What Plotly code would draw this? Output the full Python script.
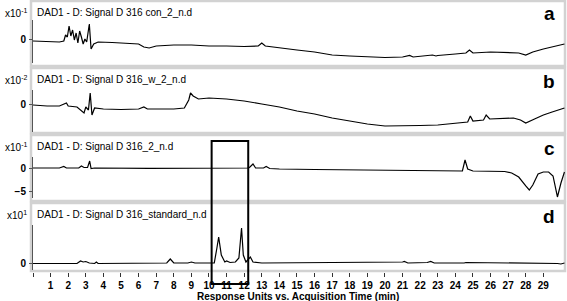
import plotly.graph_objects as go

W, H = 567, 301

# ---------------- data ----------------
titles = ["DAD1 - D: Signal D 316 con_2_n.d",
          "DAD1 - D: Signal D 316_w_2_n.d",
          "DAD1 - D: Signal D 316_2_n.d",
          "DAD1 - D: Signal D 316_standard_n.d"]
letters = ["a", "b", "c", "d"]
exponents = ["-1", "-2", "-1", "1"]

t_a = [0, 0.5, 1.0, 1.5, 1.75, 1.85, 1.95, 2.05, 2.15, 2.25, 2.35, 2.45, 2.55, 2.65, 2.75, 2.85, 2.95, 3.05,
       3.2, 3.3, 3.45, 3.7, 4.5, 5.5, 6.0, 6.3, 6.6, 7.0, 8, 9, 10, 11, 12, 12.8, 13.0, 13.2, 14, 15, 16, 17,
       18, 19, 20, 21, 21.4, 21.6, 22, 22.7, 22.9, 23, 24, 24.6, 24.8, 25.0, 26, 27, 27.6, 28.0, 28.4, 29,
       29.5, 30.2]
v_a = [-0.1, -0.125, -0.15, -0.15, -0.1, 0.2, 0.1, 0.65, 0.15, 0.45, -0.05, 0.3, -0.2, 0.4, 0.1, -0.25, 0,
       -0.15, 0.75, -0.5, -0.25, -0.15, -0.175, -0.2, -0.25, -0.4, -0.45, -0.35, -0.3, -0.3, -0.35, -0.35,
       -0.375, -0.35, -0.2, -0.35, -0.45, -0.55, -0.65, -0.8, -0.85, -0.9, -0.925, -0.9, -0.825, -0.9,
       -0.875, -0.8, -0.85, -0.825, -0.75, -0.7, -0.55, -0.7, -0.65, -0.675, -0.7, -0.8, -0.65, -0.5,
       -0.4, -0.25]

t_b = [0, 0.8, 1.5, 1.9, 2.0, 2.5, 2.9, 3.0, 3.15, 3.25, 3.35, 3.5, 4, 5, 6, 6.3, 6.5, 7, 8, 8.6, 8.85,
       8.95, 9.1, 9.4, 10, 11, 12, 13, 14, 15, 16, 17, 18, 19, 20, 21, 22, 23, 24, 24.7, 24.85, 25.0, 25.6,
       25.75, 25.95, 26.5, 27.3, 27.7, 28.0, 28.5, 29, 29.5, 30.2]
v_b = [-0.1, -0.2, -0.2, 0.1, -0.2, -0.3, -0.9, -0.3, -0.6, 1.1, -1.1, -0.4, -0.5, -0.55, -0.5, -0.3, -0.5,
       -0.5, -0.5, -0.4, 0.4, 1.1, 0.8, 0.5, 0.6, 0.5, 0.3, 0, -0.3, -0.7, -1.0, -1.4, -1.7, -2.0, -2.2,
       -2.2, -2.15, -2.1, -1.95, -1.8, -1.2, -1.7, -1.6, -1.1, -1.5, -1.45, -1.4, -1.6, -1.9, -1.5, -1.1,
       -0.8, -0.4]

t_c = [0, 1.5, 1.75, 1.9, 2.6, 2.75, 2.9, 3.1, 3.22, 3.3, 3.5, 6.3, 6.6, 12.2, 12.3, 12.5, 12.65, 13.1,
       13.25, 13.45, 14, 16, 18, 20, 22, 24.4, 24.55, 24.7, 25, 26, 26.8, 27.2, 27.6, 28.0, 28.2, 28.4,
       28.7, 29.0, 29.3, 29.55, 29.8, 30.0, 30.2]
v_c = [0, 0, 0.33, 0, 0, 0.43, 0.11, 0.11, 1.52, -0.11, 0, -0.1, -0.1, 0, 0.11, 0.87, 0, 0, 0.33, -0.11,
       -0.22, -0.33, -0.43, -0.43, -0.54, -0.65, 1.74, -0.22, -0.65, -0.76, -0.76, -1.09, -1.96, -3.91,
       -4.78, -3.70, -1.30, -0.87, -0.87, -1.74, -6.30, -3.26, -0.87]

t_d = [0, 2.5, 2.7, 2.85, 3.0, 3.2, 3.5, 3.6, 3.7, 7.6, 7.8, 8.0, 8.8, 9.0, 9.2, 10.3, 10.45, 10.55, 10.7,
       10.9, 11.0, 11.2, 11.5, 11.7, 11.85, 11.95, 12.1, 12.35, 12.5, 13, 21, 21.1, 21.3, 22.4, 22.6, 22.8,
       24.5, 24.6, 29.8, 30.0, 30.2]
v_d = [-0.05, -0.05, 0.2, 0.1, 0.15, 0, -0.05, 0.1, -0.05, 0, 0.4, 0, 0, 0.1, 0, 0, 1.5, 2.6, 0.8, 0.1,
       0.2, 0.05, 0.1, 0.5, 3.5, 0.8, 0.1, 0.6, 0.1, 0, 0.1, 0.15, 0, 0.05, 0.15, 0, 0, 0.05, -0.05, -0.1, 0]

series_t = [t_a, t_b, t_c, t_d]
series_v = [v_a, v_b, v_c, v_d]

y_ranges = [[-1.2, 0.95], [-2.8, 1.4], [-6.52, 2.39], [-0.7, 3.8]]
y_ticks = [[0], [0], [0, -5], [0]]

x_ticks = list(range(1, 30))
x_minor_ticks = [0]
x_range = [-0.057, 30.23]
box_x = [10.15, 12.23]

# ---------------- layout geometry (pixels) ----------------
def px(x):
    return x / W

def py(y):
    return 1 - y / H

axis_px = [(20, 63), (90, 132), (157, 198), (225, 270)]
frame_px = [(1, 66), (68, 133), (135, 201), (203, 271)]
title_y = [12, 79, 146, 214]
FONT = "Liberation Sans, Arial, sans-serif"

fig = go.Figure()
layout = dict(
    width=W, height=H, margin=dict(l=0, r=0, t=0, b=0),
    paper_bgcolor="white", plot_bgcolor="rgba(0,0,0,0)",
    showlegend=False, font=dict(family=FONT, size=10, color="black"),
)
shapes, annotations = [], []

for i in range(4):
    n = "" if i == 0 else str(i + 1)
    fig.add_trace(go.Scatter(x=series_t[i], y=series_v[i], mode="lines",
                             line=dict(color="black", width=1.2),
                             xaxis="x" + n, yaxis="y" + n, hoverinfo="skip"))
    top, bot = axis_px[i]
    xa = dict(domain=[px(32), px(565)], range=x_range, showgrid=False, zeroline=False,
              showline=False, showticklabels=False, ticks="", anchor="y" + n)
    if i == 3:
        xa.update(tickmode="array", tickvals=x_ticks, ticks="outside",
                  ticklen=4, tickwidth=1, tickcolor="#333", showticklabels=True,
                  tickfont=dict(size=10, family=FONT, weight="bold"),
                  minor=dict(tickvals=x_minor_ticks, ticks="outside", ticklen=4,
                             tickcolor="#333", showgrid=False),
                  anchor="free", position=py(272))
    else:
        xa["matches"] = "x4"
    ya = dict(domain=[py(bot), py(top)], range=y_ranges[i], showgrid=False, zeroline=False,
              showline=True, linecolor="#555", linewidth=1, ticks="outside", ticklen=3,
              tickcolor="#555", tickmode="array", tickvals=y_ticks[i],
              tickfont=dict(size=10, family=FONT, weight="bold"),
              anchor="free", position=px(32), side="left", ticklabelstandoff=1)
    layout["xaxis" + n] = xa
    layout["yaxis" + n] = ya

    f0, f1 = frame_px[i]
    shapes.append(dict(type="rect", xref="paper", yref="paper", x0=px(31), x1=px(565),
                       y0=py(f1), y1=py(f0), line=dict(color="#d2d2d2", width=2.5),
                       fillcolor="rgba(0,0,0,0)", layer="below"))
    annotations.append(dict(xref="paper", yref="paper", x=px(35), y=py(title_y[i]),
                            xanchor="left", yanchor="middle", showarrow=False,
                            text=titles[i], font=dict(size=10, family=FONT)))
    annotations.append(dict(xref="paper", yref="paper", x=px(29), y=py(title_y[i] + 1),
                            xanchor="right", yanchor="middle", showarrow=False,
                            text="x10<sup>" + exponents[i] + "</sup>",
                            font=dict(size=10, family=FONT)))
    annotations.append(dict(xref="paper", yref="paper", x=px(557), y=py(title_y[i] + 2),
                            xanchor="right", yanchor="middle", showarrow=False,
                            text="<b>" + letters[i] + "</b>",
                            font=dict(size=19, family=FONT)))

annotations.append(dict(xref="paper", yref="paper", x=px(298), y=py(296),
                        xanchor="center", yanchor="middle", showarrow=False,
                        text="Response Units vs. Acquisition Time (min)",
                        font=dict(size=10, family=FONT, weight="bold")))

shapes.append(dict(type="rect", xref="x4", yref="paper", x0=box_x[0], x1=box_x[1],
                   y0=py(284), y1=py(141), line=dict(color="black", width=2),
                   fillcolor="rgba(0,0,0,0)"))

layout["shapes"] = shapes
layout["annotations"] = annotations
fig.update_layout(**layout)
fig.write_html("out.html", config={"displayModeBar": False},
               post_script="document.body.style.margin='0';document.body.style.overflow='hidden';")
